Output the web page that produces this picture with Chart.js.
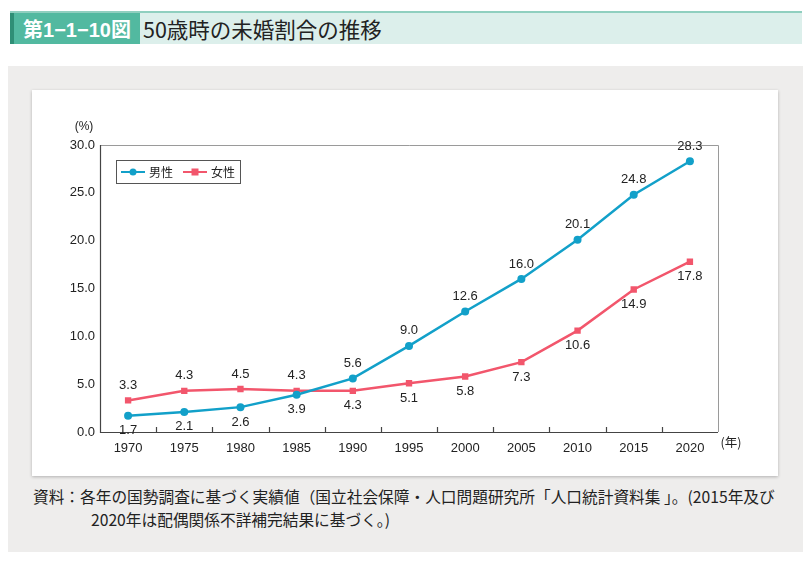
<!DOCTYPE html>
<html>
<head>
    <meta charset="UTF-8">
    <title>50歳時の未婚割合の推移</title>
    <script src="https://cdn.jsdelivr.net/npm/chart.js"></script>
    <style>
        body {
            margin: 0;
            width: 812px;
            height: 565px;
            background: #fff;
            font-family: "Noto Sans CJK JP", "Liberation Sans", sans-serif;
            position: relative;
            overflow: hidden;
        }

        .header {
            position: absolute;
            left: 10px;
            top: 11px;
            width: 792px;
            height: 31px;
            background: #dcefeb;
            border-top: 2px solid #8fcfbf;
        }

        .header .strip {
            position: absolute;
            left: 0;
            top: 0;
            width: 4px;
            height: 31px;
            background: #2f8f76;
        }

        .header .num {
            position: absolute;
            left: 4px;
            top: 0;
            width: 126px;
            height: 31px;
            background: #52b9a0;
            color: #fff;
            font-weight: bold;
            font-size: 20px;
            line-height: 31px;
            text-align: center;
            font-family: "Liberation Sans", "Noto Sans CJK JP", sans-serif;
        }

        .header .num span {
            font-family: "Noto Sans CJK JP", sans-serif;
        }

        .header .ttl {
            position: absolute;
            left: 133px;
            top: 0;
            line-height: 31px;
            font-size: 21.5px;
            color: #222;
        }

        .panel {
            position: absolute;
            left: 8px;
            top: 66px;
            width: 795px;
            height: 486px;
            background: #eeedec;
        }

        .card {
            position: absolute;
            left: 32px;
            top: 90px;
            width: 746px;
            height: 386px;
            background: #fff;
            box-shadow: 0 1px 3px rgba(0, 0, 0, 0.25);
        }

        .note {
            position: absolute;
            left: 33px;
            top: 485px;
            font-size: 15.7px;
            line-height: 23px;
            color: #222;
            white-space: nowrap;
        }
    </style>
</head>
<body>
    <div class="header">
        <div class="strip"></div>
        <div class="num">第1−1−10<span>図</span></div>
        <div class="ttl">50歳時の未婚割合の推移</div>
    </div>
    <div class="panel"></div>
    <div class="card">
        <canvas id="chart" width="746" height="386"></canvas>
    </div>
    <div class="note">資料：各年の国勢調査に基づく実績値（国立社会保障・人口問題研究所「人口統計資料集 」。(2015年及び<br>
        <span style="padding-left:58px">2020年は配偶関係不詳補完結果に基づく。)</span></div>

    <script>
        // data
        var years = ['1970', '1975', '1980', '1985', '1990', '1995', '2000', '2005', '2010', '2015', '2020'];
        var male = [1.7, 2.1, 2.6, 3.9, 5.6, 9.0, 12.6, 16.0, 20.1, 24.8, 28.3];
        var female = [3.3, 4.3, 4.5, 4.3, 4.3, 5.1, 5.8, 7.3, 10.6, 14.9, 17.8];
        // label above (true) or below (false) each point
        var maleAbove = [false, false, false, false, true, true, true, true, true, true, true];
        var femaleAbove = [true, true, true, true, false, false, false, false, false, false, false];

        var maleColor = '#12a0c9';
        var femaleColor = '#f2566c';
        var textColor = '#222';
        var font = '"Liberation Sans", Arial, sans-serif';

        // frame, inner ticks, unit labels, legend and point labels
        var decorPlugin = {
            id: 'decor',
            afterDraw: function (chart) {
                var ctx = chart.ctx;
                var a = chart.chartArea;
                var xs = chart.scales.x;
                ctx.save();

                // top and right border (light)
                ctx.strokeStyle = '#9a9a9a';
                ctx.lineWidth = 1;
                ctx.beginPath();
                ctx.moveTo(a.left, a.top + 0.5);
                ctx.lineTo(a.right + 0.5, a.top + 0.5);
                ctx.lineTo(a.right + 0.5, a.bottom);
                ctx.stroke();

                // left and bottom axis
                ctx.strokeStyle = '#444';
                ctx.lineWidth = 1.2;
                ctx.beginPath();
                ctx.moveTo(a.left + 0.5, a.top);
                ctx.lineTo(a.left + 0.5, a.bottom + 0.5);
                ctx.lineTo(a.right, a.bottom + 0.5);
                ctx.stroke();

                // tick marks between categories
                var step = xs.getPixelForValue(1) - xs.getPixelForValue(0);
                ctx.beginPath();
                for (var i = 0; i < years.length - 1; i++) {
                    var tx = Math.round(xs.getPixelForValue(i) + step / 2) + 0.5;
                    ctx.moveTo(tx, a.bottom);
                    ctx.lineTo(tx, a.bottom - 5);
                }
                ctx.stroke();

                ctx.fillStyle = textColor;
                ctx.font = '12px ' + font;
                ctx.textAlign = 'center';
                ctx.textBaseline = 'middle';
                ctx.fillText('(%)', a.left - 16, a.top - 18);
                ctx.font = '12.5px "Noto Sans CJK JP", sans-serif';
                ctx.fillText('(年)', a.right + 13, a.bottom + 10);

                // legend
                var lx = a.left + 16, ly = a.top + 15, lw = 124, lh = 23;
                ctx.fillStyle = '#fff';
                ctx.fillRect(lx, ly, lw, lh);
                ctx.strokeStyle = '#555';
                ctx.lineWidth = 1;
                ctx.strokeRect(lx + 0.5, ly + 0.5, lw, lh);
                var cy = ly + lh / 2 + 0.5;
                [[maleColor, '男性', 'circle'], [femaleColor, '女性', 'rect']].forEach(function (it, k) {
                    var sx = lx + 5 + k * 62;
                    ctx.strokeStyle = it[0];
                    ctx.lineWidth = 2;
                    ctx.beginPath();
                    ctx.moveTo(sx, cy);
                    ctx.lineTo(sx + 24, cy);
                    ctx.stroke();
                    ctx.fillStyle = it[0];
                    if (it[2] === 'circle') {
                        ctx.beginPath();
                        ctx.arc(sx + 12, cy, 3.5, 0, Math.PI * 2);
                        ctx.fill();
                    } else {
                        ctx.fillRect(sx + 8.5, cy - 3.5, 7, 7);
                    }
                    ctx.fillStyle = textColor;
                    ctx.textAlign = 'left';
                    ctx.font = '12px "Noto Sans CJK JP", sans-serif';
                    ctx.fillText(it[1], sx + 28, cy);
                });

                // point labels
                ctx.font = '13px ' + font;
                ctx.textAlign = 'center';
                ctx.fillStyle = textColor;
                [[0, male, maleAbove], [1, female, femaleAbove]].forEach(function (s) {
                    var meta = chart.getDatasetMeta(s[0]);
                    meta.data.forEach(function (pt, i) {
                        var dy = s[2][i] ? -15 : 15;
                        ctx.fillText(s[1][i].toFixed(1), pt.x, pt.y + dy);
                    });
                });
                ctx.restore();
            }
        };

        var ctx = document.getElementById('chart').getContext('2d');
        var chart = new Chart(ctx, {
            type: 'line',
            data: {
                labels: years,
                datasets: [{
                    label: '男性',
                    data: male,
                    borderColor: maleColor,
                    backgroundColor: maleColor,
                    borderWidth: 2.5,
                    pointStyle: 'circle',
                    pointRadius: 4,
                    pointBorderWidth: 0,
                    tension: 0
                }, {
                    label: '女性',
                    data: female,
                    borderColor: femaleColor,
                    backgroundColor: femaleColor,
                    borderWidth: 2.5,
                    pointStyle: 'rect',
                    pointRadius: 4.5,
                    pointBorderWidth: 0,
                    tension: 0
                }]
            },
            options: {
                responsive: false,
                animation: false,
                layout: {
                    padding: { left: 28, top: 55, right: 60, bottom: 14 }
                },
                plugins: {
                    legend: { display: false },
                    tooltip: { enabled: false }
                },
                scales: {
                    x: {
                        offset: true,
                        grid: { display: false, drawTicks: false },
                        border: { display: false },
                        afterFit: function (s) { s.height = 30; },
                        ticks: {
                            color: textColor,
                            font: { family: font, size: 13 },
                            padding: 9,
                            maxRotation: 0
                        }
                    },
                    y: {
                        min: 0,
                        max: 30,
                        grid: { display: false, drawTicks: false },
                        border: { display: false },
                        afterFit: function (s) { s.width = 40; },
                        ticks: {
                            stepSize: 5,
                            color: textColor,
                            font: { family: font, size: 13 },
                            padding: 5,
                            callback: function (v) { return v.toFixed(1); }
                        }
                    }
                }
            },
            plugins: [decorPlugin]
        });
    </script>
</body>
</html>
